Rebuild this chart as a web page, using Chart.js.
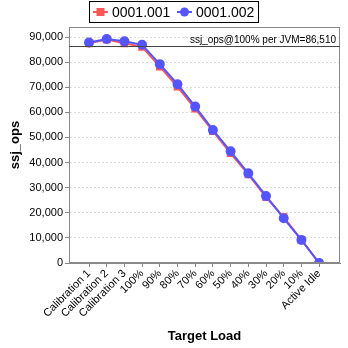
<!DOCTYPE html>
<html>
<head>
<meta charset="utf-8">
<script src="https://cdn.jsdelivr.net/npm/chart.js@4.4.1/dist/chart.umd.min.js"></script>
<style>
  html, body { margin: 0; padding: 0; background: #fff; }
  #wrap { width: 348px; height: 348px; }
</style>
</head>
<body>
<div id="wrap"><canvas id="grafico"></canvas></div>
<script>
const categorias = ['Calibration 1', 'Calibration 2', 'Calibration 3', '100%', '90%', '80%', '70%',
  '60%', '50%', '40%', '30%', '20%', '10%', 'Active Idle'];
const serie1 = [87500, 89000, 87500, 86100, 78200, 70200, 61500, 52500, 43700, 35300, 26200, 18300, 9200, 0];
const serie2 = [87800, 89200, 88300, 86900, 79200, 71200, 62300, 53000, 44500, 35700, 26700, 17800, 9200, 0];
const ticksY = [0, 10000, 20000, 30000, 40000, 50000, 60000, 70000, 80000, 90000];
const nomes = ['0001.001', '0001.002'];
const cores = ['#ff5555', '#5555ff'];
const refValor = 86510;
const refTexto = 'ssj_ops@100% per JVM=86,510';

const fonte = '"Liberation Sans", Arial, sans-serif';

const pontos = arr => arr.map((v, i) => ({ x: i, y: v }));

// moldura da área do gráfico, linha de referência e legenda desenhada à mão
const extras = {
  id: 'extras',
  afterDatasetsDraw(chart) {
    const { ctx, chartArea: a, scales } = chart;
    ctx.save();
    ctx.strokeStyle = '#888';
    ctx.lineWidth = 1;
    ctx.strokeRect(a.left + 0.5, a.top + 0.5, a.right - a.left - 1, a.bottom - a.top - 1);

    const yRef = Math.round(scales.y.getPixelForValue(refValor)) + 0.5;
    ctx.strokeStyle = '#444';
    ctx.beginPath();
    ctx.moveTo(a.left, yRef);
    ctx.lineTo(a.right, yRef);
    ctx.stroke();
    ctx.fillStyle = '#000';
    ctx.font = '10px ' + fonte;
    ctx.textAlign = 'right';
    ctx.textBaseline = 'bottom';
    ctx.fillText(refTexto, a.right - 4, yRef - 1);
    ctx.restore();
  },
  afterDraw(chart) {
    const { ctx } = chart;
    ctx.save();
    ctx.fillStyle = '#fff';
    ctx.fillRect(89, 1, 169, 22);
    ctx.strokeStyle = '#000';
    ctx.lineWidth = 1;
    ctx.strokeRect(89.5, 1.5, 169, 21);
    const itens = [
      { x: 93, texto: 112, estilo: 'rect' },
      { x: 177, texto: 196, estilo: 'circle' }
    ];
    itens.forEach((it, i) => {
      const cy = 12;
      ctx.strokeStyle = cores[i];
      ctx.lineWidth = 2;
      ctx.beginPath();
      ctx.moveTo(it.x, cy);
      ctx.lineTo(it.x + 15, cy);
      ctx.stroke();
      ctx.fillStyle = cores[i];
      if (it.estilo === 'rect') {
        ctx.fillRect(it.x + 3.5, cy - 4, 8, 8);
      } else {
        ctx.beginPath();
        ctx.arc(it.x + 7.5, cy, 4.5, 0, Math.PI * 2);
        ctx.fill();
      }
      ctx.fillStyle = '#000';
      ctx.font = '14px ' + fonte;
      ctx.textAlign = 'left';
      ctx.textBaseline = 'middle';
      ctx.fillText(nomes[i], it.texto, cy + 1);
    });
    ctx.restore();
  }
};

new Chart(document.getElementById('grafico'), {
  type: 'line',
  data: {
    datasets: [
      {
        label: nomes[0],
        data: pontos(serie1),
        borderColor: cores[0],
        backgroundColor: cores[0],
        borderWidth: 2,
        pointStyle: 'rect',
        pointRadius: 4,
        pointHoverRadius: 4,
        tension: 0,
        order: 1
      },
      {
        label: nomes[1],
        data: pontos(serie2),
        borderColor: cores[1],
        backgroundColor: cores[1],
        borderWidth: 2,
        pointStyle: 'circle',
        pointRadius: 4,
        pointHoverRadius: 4,
        tension: 0,
        order: 0
      }
    ]
  },
  options: {
    responsive: true,
    maintainAspectRatio: false,
    animation: false,
    layout: { padding: { top: 27, right: 8, left: 0, bottom: 0 } },
    plugins: {
      legend: { display: false },
      tooltip: { enabled: false }
    },
    scales: {
      x: {
        type: 'linear',
        min: -1.13,
        max: 14.18,
        afterBuildTicks: s => {
          s.ticks = categorias.map((c, i) => ({ value: i }));
        },
        afterFit: s => { s.height = 85; },
        ticks: {
          autoSkip: false,
          maxRotation: 45,
          minRotation: 45,
          color: '#000',
          font: { family: fonte, size: 11 },
          padding: 0,
          callback: v => categorias[v]
        },
        grid: { drawOnChartArea: false, tickLength: 4, color: '#888' },
        border: { color: '#888' },
        title: {
          display: true,
          text: 'Target Load',
          color: '#000',
          font: { family: fonte, size: 13, weight: 'bold' },
          padding: { top: 12 }
        }
      },
      y: {
        min: 0,
        max: 94000,
        afterBuildTicks: s => {
          s.ticks = ticksY.map(v => ({ value: v }));
        },
        afterFit: s => { s.width = 69; },
        ticks: {
          color: '#000',
          font: { family: fonte, size: 11 },
          padding: 2,
          callback: v => v.toLocaleString('en-US')
        },
        grid: {
          color: '#dcdcdc',
          tickLength: 4,
          tickColor: '#888'
        },
        border: { color: '#888', dash: [2, 2] },
        title: {
          display: true,
          text: 'ssj_ops',
          color: '#000',
          font: { family: fonte, size: 13, weight: 'bold' },
          padding: { top: 8, bottom: 0 }
        }
      }
    }
  },
  plugins: [extras]
});
</script>
</body>
</html>
